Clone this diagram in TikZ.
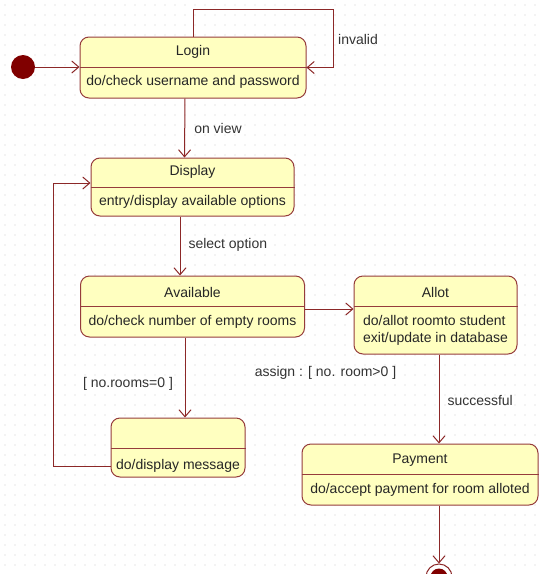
\documentclass[tikz,border=0pt]{standalone}
\usepackage{fontspec}
\setmainfont{Liberation Sans}
\usetikzlibrary{arrows.meta}
\definecolor{statefill}{RGB}{255,255,192}
\definecolor{stateline}{RGB}{150,60,60}
\definecolor{lineclr}{RGB}{140,40,40}
\definecolor{dotclr}{RGB}{128,0,0}
\definecolor{gridclr}{RGB}{205,205,205}
\tikzset{
    state/.style={draw=stateline, fill=statefill, rounded corners=9pt, line width=1pt, inner sep=0pt},
    stext/.style={font=\fontsize{14}{17}\selectfont, text=black!85, inner sep=0pt, align=left},
    lbl/.style={font=\fontsize{14}{17}\selectfont, text=black!80, inner sep=0pt},
    tr/.style={draw=lineclr, line width=1pt, -{Straight Barb[length=7pt,width=12pt]}},
    divider/.style={draw=stateline, line width=1pt}
}
\begin{document}
\begin{tikzpicture}[x=1pt, y=-1pt]
            \useasboundingbox (0,0) rectangle (540,574);
            \fill[white] (0,0) rectangle (540,574);
            % dotted background grid
            \foreach \x in {5,15,...,535}
                \foreach \y in {5,15,...,570}
                    \fill[gridclr] (\x,\y) circle (0.6pt);

            % Draw states
            \node[state, minimum width=226pt, minimum height=61pt] (Login) at (193,67.5) {};
            \node[state, minimum width=203pt, minimum height=58pt] (Display) at (192.5,187) {};
            \node[state, minimum width=224pt, minimum height=61pt] (Available) at (192.5,306.5) {};
            \node[state, minimum width=163pt, minimum height=78pt] (Allot) at (435.5,315) {};
            \node[state, minimum width=134pt, minimum height=59pt] (Message) at (178,447.5) {};
            \node[state, minimum width=236pt, minimum height=61pt] (Payment) at (420,474.5) {};

            % compartment lines
            \draw[divider] (Login.west |- 0,67) -- (Login.east |- 0,67);
            \draw[divider] (Display.west |- 0,187) -- (Display.east |- 0,187);
            \draw[divider] (Available.west |- 0,306.5) -- (Available.east |- 0,306.5);
            \draw[divider] (Allot.west |- 0,306) -- (Allot.east |- 0,306);
            \draw[divider] (Message.west |- 0,448) -- (Message.east |- 0,448);
            \draw[divider] (Payment.west |- 0,474) -- (Payment.east |- 0,474);

            % state texts
            \node[stext] (LoginT) at (193,52) {Login};
            \node[stext] (LoginB) at (193,82) {do/check username and password};
            \node[stext] (DisplayT) at (192.5,172) {Display};
            \node[stext] (DisplayB) at (192.5,202) {entry/display available options};
            \node[stext] (AvailableT) at (192.5,292) {Available};
            \node[stext] (AvailableB) at (192.5,322) {do/check number of empty rooms};
            \node[stext] (AllotT) at (435.5,292) {Allot};
            \node[stext] (AllotB) at (435.5,330.5) {do/allot roomto student\\exit/update in database};
            \node[stext] (MessageB) at (178,466) {do/display message};
            \node[stext] (PaymentT) at (420,460) {Payment};
            \node[stext] (PaymentB) at (420,490) {do/accept payment for room alloted};

            % initial and final states
            \node[circle, fill=dotclr, minimum size=24pt, inner sep=0pt] (start) at (23,67) {};
            \node[circle, draw=lineclr, fill=white, line width=1pt, minimum size=26pt, inner sep=0pt] (end) at (439,577) {};
            \node[circle, fill=dotclr, minimum size=17pt, inner sep=0pt] (enddot) at (end) {};

            % transitions
            \draw[tr] (start) -- (Login.west |- start);
            \draw[tr] (Login.north) -- ++(0,-27) -| ([xshift=27pt]Login.east) -- (Login.east);
            \draw[tr] ([xshift=-8pt]Login.south) -- ([xshift=-8pt]Display.north) node[midway, right, lbl, xshift=9pt] {on view};
            \draw[tr] ([xshift=-12.5pt]Display.south) -- ([xshift=-12.5pt]Available.north) node[midway, right, lbl, xshift=8pt, yshift=1pt] {select option};
            \draw[tr] ([yshift=-2.5pt]Available.east) -- ([yshift=6pt]Allot.west);
            \draw[tr] ([xshift=-7.5pt]Available.south) -- ([xshift=7pt]Message.north);
            \draw[tr] ([yshift=-18.5pt]Message.west) -- ++(-57,0) |- ([yshift=4pt]Display.west);
            \draw[tr] ([xshift=3.5pt]Allot.south) -- ([xshift=19pt]Payment.north) node[midway, right, lbl, xshift=8pt, yshift=-1pt] {successful};
            \draw[tr] ([xshift=19pt]Payment.south) -- (end);

            % labels
            \node[lbl] (invalid) at (358,39) {invalid};
            \node[lbl] (guardzero) at (128,384) {[ no.rooms=0 ]};
            \node[lbl] (guardassign) at (325.5,373) {assign : [ no. room>0 ]};
\end{tikzpicture}
\end{document}
